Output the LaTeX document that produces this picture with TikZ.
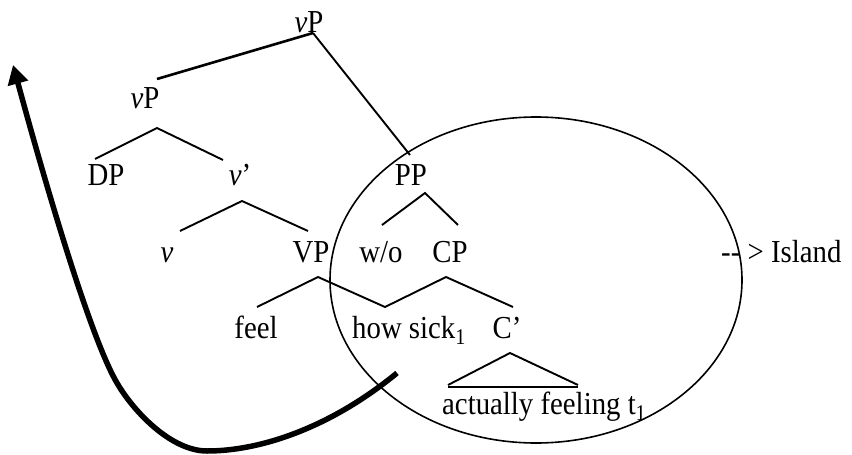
\documentclass[tikz,border=0pt]{standalone}
\usepackage{fontspec}
\setmainfont[FakeStretch=0.9]{Liberation Serif}
\usetikzlibrary{arrows.meta}
\begin{document}
\begin{tikzpicture}[x=1pt,y=-1pt,
  lbl/.style={font=\fontsize{32}{36}\selectfont, inner sep=0pt, anchor=base},
  lblw/.style={lbl, anchor=base west},
  branch/.style={line width=1.9pt},
  thickbranch/.style={line width=2.6pt},
  islandline/.style={line width=1.6pt},
  movearrow/.style={line width=5.5pt, -{Triangle[length=19pt,width=20pt]}}]
\useasboundingbox (0,0) rectangle (852,455);

% labels
\node[lbl] (vPtop) at (309,32) {\textit{v}P};
\node[lbl] (vPlow) at (145,108) {\textit{v}P};
\node[lbl] (DP) at (106,185) {DP};
\node[lbl] (vbar) at (240,185) {\textit{v}’};
\node[lbl] (PP) at (411,185) {PP};
\node[lbl] (v) at (167,262) {\textit{v}};
\node[lbl] (VP) at (311,262) {VP};
\node[lbl] (wo) at (381,262) {w/o};
\node[lbl] (CP) at (450,262) {CP};
\node[lblw] (island) at (721,262) {-{}- > Island};
\node[lbl] (feel) at (256,338) {feel};
\node[lblw] (howsick) at (352,338) {how sick\textsubscript{1}};
\node[lbl] (Cbar) at (507,338) {C’};
\node[lblw] (actually) at (442,414) {actually feeling t\textsubscript{1}};

% branch points
\coordinate (topA) at (313,33);
\coordinate (topL) at (157,79);
\coordinate (topR) at (410,155);
\coordinate (vpA) at (157,128);
\coordinate (vpL) at (95,159);
\coordinate (vpR) at (223,160);
\coordinate (vbA) at (242,201);
\coordinate (vbL) at (180,231);
\coordinate (vbR) at (308,231);
\coordinate (ppA) at (425,193);
\coordinate (ppL) at (382,225);
\coordinate (ppR) at (458,225);
\coordinate (VPA) at (318,277);
\coordinate (VPL) at (257,307);
\coordinate (valley) at (385,307);
\coordinate (CPA) at (446,277);
\coordinate (CPR) at (513,307);
\coordinate (triA) at (510,353);
\coordinate (triL) at (448,385);
\coordinate (triR) at (578,385);
\coordinate (baseL) at (448,387);
\coordinate (baseR) at (578,387);

% tree lines
\draw[thickbranch] (topA) -- (topL);
\draw[branch] (topA) -- (topR);
\draw[branch] (vpL) -- (vpA) -- (vpR);
\draw[branch] (vbL) -- (vbA) -- (vbR);
\draw[branch] (ppL) -- (ppA) -- (ppR);
\draw[branch] (VPL) -- (VPA) -- (valley) -- (CPA) -- (CPR);
\draw[branch] (triL) -- (triA) -- (triR);
\draw[line width=2.6pt] (baseL) -- (baseR);

% movement arrow
\coordinate (arrS) at (397,373);
\coordinate (arrB) at (207,451);
\coordinate (arrM) at (117,383);
\coordinate (arrT) at (13,65);
\draw[movearrow] (arrS) .. controls (330,428) and (260,451) .. (arrB)
  .. controls (172,451) and (134.7,413.2) .. (arrM)
  .. controls (86.6,331.3) and (34,142) .. (arrT);

% island
\coordinate (islandC) at (536,280);
\draw[islandline] (islandC) ellipse [x radius=206pt, y radius=163pt];
\end{tikzpicture}
\end{document}
